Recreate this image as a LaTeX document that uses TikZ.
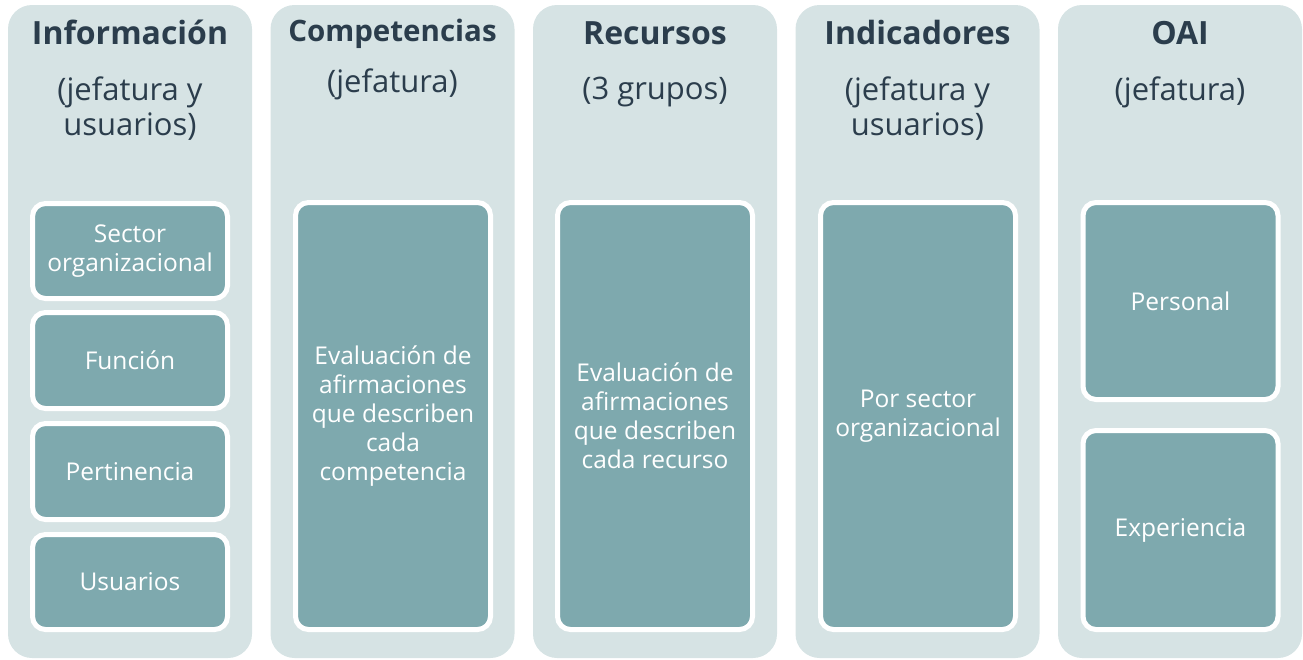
\documentclass[tikz,border=0pt]{standalone}
\usepackage{fontspec}
\setmainfont{Open Sans}
\definecolor{colbg}{RGB}{214,227,228}
\definecolor{boxbg}{RGB}{126,169,174}
\definecolor{ink}{RGB}{43,61,76}
\begin{document}
\begin{tikzpicture}[x=1pt,y=-1pt,
  colpanel/.style={fill=colbg, rounded corners=24pt, minimum width=244pt, minimum height=653pt, inner sep=0pt},
  itembox/.style={draw=white, line width=5pt, fill=boxbg, rounded corners=13pt, minimum width=195pt, text=white, font=\fontsize{24.5}{29}\selectfont, align=center, inner sep=0pt},
  titletext/.style={anchor=base, text=ink, font=\fontsize{32}{38}\selectfont\bfseries, inner sep=0pt},
  subtext/.style={anchor=north, text=ink, font=\fontsize{31}{35}\selectfont, align=center, inner sep=0pt}]
\useasboundingbox (0,0) rectangle (1303,659);
% columns
\node[colpanel] (col1) at (130,331.5) {};
\node[colpanel] (col2) at (392.5,331.5) {};
\node[colpanel] (col3) at (655,331.5) {};
\node[colpanel] (col4) at (917.5,331.5) {};
\node[colpanel] (col5) at (1180,331.5) {};
% headers
\node[titletext] (t1) at (130,44) {Información};
\node[subtext] (s1) at (130,76.5) {(jefatura y\\usuarios)};
\node[titletext, font=\fontsize{29.5}{35}\selectfont\bfseries] (t2) at (392.5,41) {Competencias};
\node[subtext] (s2) at (392.5,68.5) {(jefatura)};
\node[titletext] (t3) at (655,44) {Recursos};
\node[subtext] (s3) at (655,76.5) {(3 grupos)};
\node[titletext] (t4) at (917.5,44) {Indicadores};
\node[subtext] (s4) at (917.5,76.5) {(jefatura y\\usuarios)};
\node[titletext] (t5) at (1180,44) {OAI};
\node[subtext] (s5) at (1180,76.5) {(jefatura)};
% items
\node[itembox, minimum height=95pt] (sector) at (130,251) {Sector\\organizacional};
\node[itembox, minimum height=96pt] (funcion) at (130,360.5) {Función};
\node[itembox, minimum height=96pt] (pert) at (130,471.5) {Pertinencia};
\node[itembox, minimum height=95pt] (usu) at (130,582) {Usuarios};
\node[itembox, minimum height=427pt] (comp) at (393,416) {Evaluación de\\afirmaciones\\que describen\\cada\\competencia};
\node[itembox, minimum height=427pt] (rec) at (655,416) {Evaluación de\\afirmaciones\\que describen\\cada recurso};
\node[itembox, minimum height=427pt] (ind) at (918,416) {Por sector\\organizacional};
\node[itembox, minimum height=197pt] (pers) at (1180.5,301) {Personal};
\node[itembox, minimum height=199pt] (exp) at (1180.5,530) {Experiencia};
\end{tikzpicture}
\end{document}
